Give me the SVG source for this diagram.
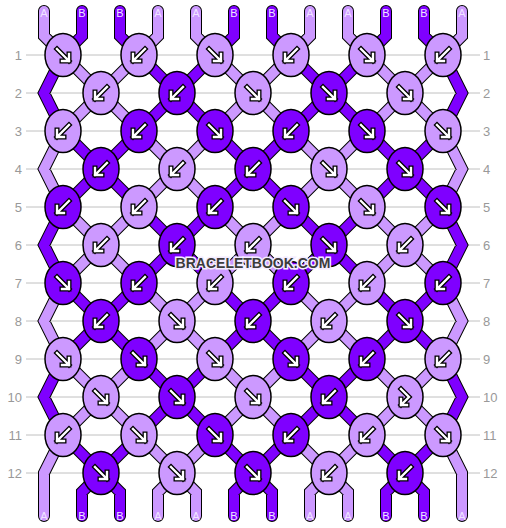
<svg xmlns="http://www.w3.org/2000/svg" xmlns:xlink="http://www.w3.org/1999/xlink" width="506" height="528" viewBox="0 0 506 528">
<style>
.row{stroke:#c0c0c0;stroke-width:1}
.num{font-family:"Liberation Sans",Arial,sans-serif;font-size:13px;fill:#999}
.sl{font-family:"Liberation Sans",Arial,sans-serif;font-size:11px;fill:#f0e4ff;text-anchor:middle}
.ol{fill:none;stroke:#000;stroke-width:12;stroke-linecap:round;stroke-linejoin:miter}
.ta{fill:none;stroke:#cc99ff;stroke-width:10;stroke-linecap:round;stroke-linejoin:miter}
.tb{fill:none;stroke:#7f00ff;stroke-width:10;stroke-linecap:round;stroke-linejoin:miter}
.a{fill:#cc99ff}
.b{fill:#7f00ff}
.wm{font-family:"Liberation Sans",Arial,sans-serif;font-size:14px;font-weight:bold;fill:#3c3c3c;stroke:#f4ecff;stroke-width:3;paint-order:stroke;text-anchor:middle}
</style>
<defs>
<ellipse id="e" rx="18" ry="21.5" stroke="#000" stroke-width="1.5"/>
<g id="af"><path d="M-6,-6L6,6M6,-1L6,6L-1,6" fill="none" stroke="#000" stroke-width="5" stroke-linecap="square"/><path d="M-6,-6L6,6M6,-1L6,6L-1,6" fill="none" stroke="#fff" stroke-width="2.4" stroke-linecap="square"/></g>
<g id="ab"><path d="M6,-6L-6,6M-6,-1L-6,6L1,6" fill="none" stroke="#000" stroke-width="5" stroke-linecap="square"/><path d="M6,-6L-6,6M-6,-1L-6,6L1,6" fill="none" stroke="#fff" stroke-width="2.4" stroke-linecap="square"/></g>
<g id="afb"><path d="M-4,-8L4,0L-4,8M-4,2L-4,8L2,8" fill="none" stroke="#000" stroke-width="5" stroke-linecap="square"/><path d="M-4,-8L4,0L-4,8M-4,2L-4,8L2,8" fill="none" stroke="#fff" stroke-width="2.4" stroke-linecap="square"/></g>
<path id="pa" d="M63,55L139,131M139,55L63,131M215,55L291,131M291,55L215,131M367,55L443,131M443,55L367,131M139,131L215,207M215,131L139,207M291,131L367,207M367,131L291,207M63,207L139,283M139,207L63,283M215,207L291,283M291,207L215,283M367,207L443,283M443,207L367,283M139,283L215,359M215,283L139,359M291,283L367,359M367,283L291,359M63,359L139,435M139,359L63,435M215,359L291,435M291,359L215,435M367,359L443,435M443,359L367,435M139,435L196,492L196,516M215,435L158,492L158,516M291,435L348,492L348,516M367,435L310,492L310,516M63,131L44,169L63,207M443,131L462,169L443,207M63,283L44,321L63,359M443,283L462,321L443,359M63,435L44,473L44,516M443,435L462,473L462,516M44,11L44,36L63,55M158,11L158,36L139,55M196,11L196,36L215,55M310,11L310,36L291,55M348,11L348,36L367,55M462,11L462,36L443,55"/>
<path id="pb" d="M139,55L215,131M215,55L139,131M291,55L367,131M367,55L291,131M63,131L139,207M139,131L63,207M215,131L291,207M291,131L215,207M367,131L443,207M443,131L367,207M139,207L215,283M215,207L139,283M291,207L367,283M367,207L291,283M63,283L139,359M139,283L63,359M215,283L291,359M291,283L215,359M367,283L443,359M443,283L367,359M139,359L215,435M215,359L139,435M291,359L367,435M367,359L291,435M63,435L120,492L120,516M139,435L82,492L82,516M215,435L272,492L272,516M291,435L234,492L234,516M367,435L424,492L424,516M443,435L386,492L386,516M63,55L44,93L63,131M443,55L462,93L443,131M63,207L44,245L63,283M443,207L462,245L443,283M63,359L44,397L63,435M443,359L462,397L443,435M82,11L82,36L63,55M120,11L120,36L139,55M234,11L234,36L215,55M272,11L272,36L291,55M386,11L386,36L367,55M424,11L424,36L443,55"/>
</defs>
<rect width="506" height="528" fill="#fff"/>
<g id="grid">
<line class="row" x1="26" y1="55" x2="480" y2="55"/>
<line class="row" x1="26" y1="93" x2="480" y2="93"/>
<line class="row" x1="26" y1="131" x2="480" y2="131"/>
<line class="row" x1="26" y1="169" x2="480" y2="169"/>
<line class="row" x1="26" y1="207" x2="480" y2="207"/>
<line class="row" x1="26" y1="245" x2="480" y2="245"/>
<line class="row" x1="26" y1="283" x2="480" y2="283"/>
<line class="row" x1="26" y1="321" x2="480" y2="321"/>
<line class="row" x1="26" y1="359" x2="480" y2="359"/>
<line class="row" x1="26" y1="397" x2="480" y2="397"/>
<line class="row" x1="26" y1="435" x2="480" y2="435"/>
<line class="row" x1="26" y1="473" x2="480" y2="473"/>
<g class="num" text-anchor="end">
<text x="22" y="60">1</text><text x="22" y="98">2</text><text x="22" y="136">3</text><text x="22" y="174">4</text><text x="22" y="212">5</text><text x="22" y="250">6</text><text x="22" y="288">7</text><text x="22" y="326">8</text><text x="22" y="364">9</text><text x="22" y="402">10</text><text x="22" y="440">11</text><text x="22" y="478">12</text>
</g>
<g class="num">
<text x="483" y="60">1</text><text x="483" y="98">2</text><text x="483" y="136">3</text><text x="483" y="174">4</text><text x="483" y="212">5</text><text x="483" y="250">6</text><text x="483" y="288">7</text><text x="483" y="326">8</text><text x="483" y="364">9</text><text x="483" y="402">10</text><text x="483" y="440">11</text><text x="483" y="478">12</text>
</g>
</g>
<g id="connectors">
<use href="#pa" class="ol"/>
<use href="#pb" class="ol"/>
<use href="#pa" class="ta"/>
<use href="#pb" class="tb"/>
</g>
<g id="string-labels">
<text class="sl" x="44" y="17">A</text><text class="sl" x="82" y="17">B</text><text class="sl" x="120" y="17">B</text><text class="sl" x="158" y="17">A</text><text class="sl" x="196" y="17">A</text><text class="sl" x="234" y="17">B</text><text class="sl" x="272" y="17">B</text><text class="sl" x="310" y="17">A</text><text class="sl" x="348" y="17">A</text><text class="sl" x="386" y="17">B</text><text class="sl" x="424" y="17">B</text><text class="sl" x="462" y="17">A</text>
<text class="sl" x="44" y="520">A</text><text class="sl" x="82" y="520">B</text><text class="sl" x="120" y="520">B</text><text class="sl" x="158" y="520">A</text><text class="sl" x="196" y="520">A</text><text class="sl" x="234" y="520">B</text><text class="sl" x="272" y="520">B</text><text class="sl" x="310" y="520">A</text><text class="sl" x="348" y="520">A</text><text class="sl" x="386" y="520">B</text><text class="sl" x="424" y="520">B</text><text class="sl" x="462" y="520">A</text>
</g>
<g id="knots">
<g id="k1-1" transform="translate(63,55)"><use href="#e" class="a"/><use href="#af"/></g>
<g id="k1-2" transform="translate(139,55)"><use href="#e" class="a"/><use href="#ab"/></g>
<g id="k1-3" transform="translate(215,55)"><use href="#e" class="a"/><use href="#af"/></g>
<g id="k1-4" transform="translate(291,55)"><use href="#e" class="a"/><use href="#ab"/></g>
<g id="k1-5" transform="translate(367,55)"><use href="#e" class="a"/><use href="#af"/></g>
<g id="k1-6" transform="translate(443,55)"><use href="#e" class="a"/><use href="#ab"/></g>

<g id="k2-1" transform="translate(101,93)"><use href="#e" class="a"/><use href="#ab"/></g>
<g id="k2-2" transform="translate(177,93)"><use href="#e" class="b"/><use href="#ab"/></g>
<g id="k2-3" transform="translate(253,93)"><use href="#e" class="a"/><use href="#af"/></g>
<g id="k2-4" transform="translate(329,93)"><use href="#e" class="b"/><use href="#af"/></g>
<g id="k2-5" transform="translate(405,93)"><use href="#e" class="a"/><use href="#af"/></g>

<g id="k3-1" transform="translate(63,131)"><use href="#e" class="a"/><use href="#ab"/></g>
<g id="k3-2" transform="translate(139,131)"><use href="#e" class="b"/><use href="#ab"/></g>
<g id="k3-3" transform="translate(215,131)"><use href="#e" class="b"/><use href="#af"/></g>
<g id="k3-4" transform="translate(291,131)"><use href="#e" class="b"/><use href="#ab"/></g>
<g id="k3-5" transform="translate(367,131)"><use href="#e" class="b"/><use href="#af"/></g>
<g id="k3-6" transform="translate(443,131)"><use href="#e" class="a"/><use href="#af"/></g>

<g id="k4-1" transform="translate(101,169)"><use href="#e" class="b"/><use href="#ab"/></g>
<g id="k4-2" transform="translate(177,169)"><use href="#e" class="a"/><use href="#ab"/></g>
<g id="k4-3" transform="translate(253,169)"><use href="#e" class="b"/><use href="#ab"/></g>
<g id="k4-4" transform="translate(329,169)"><use href="#e" class="a"/><use href="#af"/></g>
<g id="k4-5" transform="translate(405,169)"><use href="#e" class="b"/><use href="#af"/></g>

<g id="k5-1" transform="translate(63,207)"><use href="#e" class="b"/><use href="#ab"/></g>
<g id="k5-2" transform="translate(139,207)"><use href="#e" class="a"/><use href="#ab"/></g>
<g id="k5-3" transform="translate(215,207)"><use href="#e" class="b"/><use href="#ab"/></g>
<g id="k5-4" transform="translate(291,207)"><use href="#e" class="b"/><use href="#af"/></g>
<g id="k5-5" transform="translate(367,207)"><use href="#e" class="a"/><use href="#af"/></g>
<g id="k5-6" transform="translate(443,207)"><use href="#e" class="b"/><use href="#af"/></g>

<g id="k6-1" transform="translate(101,245)"><use href="#e" class="a"/><use href="#ab"/></g>
<g id="k6-2" transform="translate(177,245)"><use href="#e" class="b"/><use href="#ab"/></g>
<g id="k6-3" transform="translate(253,245)"><use href="#e" class="a"/><use href="#ab"/></g>
<g id="k6-4" transform="translate(329,245)"><use href="#e" class="b"/><use href="#af"/></g>
<g id="k6-5" transform="translate(405,245)"><use href="#e" class="a"/><use href="#ab"/></g>

<g id="k7-1" transform="translate(63,283)"><use href="#e" class="b"/><use href="#af"/></g>
<g id="k7-2" transform="translate(139,283)"><use href="#e" class="b"/><use href="#ab"/></g>
<g id="k7-3" transform="translate(215,283)"><use href="#e" class="a"/><use href="#ab"/></g>
<g id="k7-4" transform="translate(291,283)"><use href="#e" class="b"/><use href="#ab"/></g>
<g id="k7-5" transform="translate(367,283)"><use href="#e" class="a"/><use href="#ab"/></g>
<g id="k7-6" transform="translate(443,283)"><use href="#e" class="b"/><use href="#ab"/></g>

<g id="k8-1" transform="translate(101,321)"><use href="#e" class="b"/><use href="#ab"/></g>
<g id="k8-2" transform="translate(177,321)"><use href="#e" class="a"/><use href="#af"/></g>
<g id="k8-3" transform="translate(253,321)"><use href="#e" class="b"/><use href="#ab"/></g>
<g id="k8-4" transform="translate(329,321)"><use href="#e" class="a"/><use href="#ab"/></g>
<g id="k8-5" transform="translate(405,321)"><use href="#e" class="b"/><use href="#af"/></g>

<g id="k9-1" transform="translate(63,359)"><use href="#e" class="a"/><use href="#af"/></g>
<g id="k9-2" transform="translate(139,359)"><use href="#e" class="b"/><use href="#af"/></g>
<g id="k9-3" transform="translate(215,359)"><use href="#e" class="a"/><use href="#af"/></g>
<g id="k9-4" transform="translate(291,359)"><use href="#e" class="b"/><use href="#af"/></g>
<g id="k9-5" transform="translate(367,359)"><use href="#e" class="b"/><use href="#ab"/></g>
<g id="k9-6" transform="translate(443,359)"><use href="#e" class="a"/><use href="#ab"/></g>

<g id="k10-1" transform="translate(101,397)"><use href="#e" class="a"/><use href="#af"/></g>
<g id="k10-2" transform="translate(177,397)"><use href="#e" class="b"/><use href="#af"/></g>
<g id="k10-3" transform="translate(253,397)"><use href="#e" class="a"/><use href="#af"/></g>
<g id="k10-4" transform="translate(329,397)"><use href="#e" class="b"/><use href="#ab"/></g>
<g id="k10-5" transform="translate(405,397)"><use href="#e" class="a"/><use href="#afb"/></g>

<g id="k11-1" transform="translate(63,435)"><use href="#e" class="a"/><use href="#ab"/></g>
<g id="k11-2" transform="translate(139,435)"><use href="#e" class="a"/><use href="#af"/></g>
<g id="k11-3" transform="translate(215,435)"><use href="#e" class="b"/><use href="#af"/></g>
<g id="k11-4" transform="translate(291,435)"><use href="#e" class="b"/><use href="#ab"/></g>
<g id="k11-5" transform="translate(367,435)"><use href="#e" class="a"/><use href="#ab"/></g>
<g id="k11-6" transform="translate(443,435)"><use href="#e" class="a"/><use href="#af"/></g>

<g id="k12-1" transform="translate(101,473)"><use href="#e" class="b"/><use href="#af"/></g>
<g id="k12-2" transform="translate(177,473)"><use href="#e" class="a"/><use href="#af"/></g>
<g id="k12-3" transform="translate(253,473)"><use href="#e" class="b"/><use href="#af"/></g>
<g id="k12-4" transform="translate(329,473)"><use href="#e" class="a"/><use href="#ab"/></g>
<g id="k12-5" transform="translate(405,473)"><use href="#e" class="b"/><use href="#ab"/></g>
</g>
<text class="wm" x="253" y="268">BRACELETBOOK.COM</text>
</svg>
